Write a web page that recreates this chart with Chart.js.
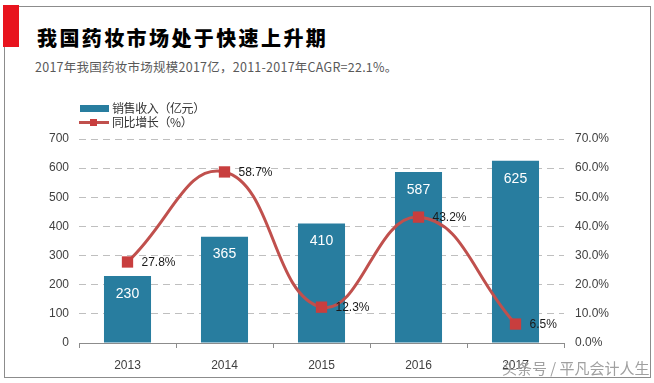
<!DOCTYPE html>
<html><head><meta charset="utf-8">
<script src="https://cdn.jsdelivr.net/npm/chart.js@4"></script>
<style>
html,body{margin:0;padding:0;background:#fff;}
#wrap{position:relative;width:654px;height:383px;overflow:hidden;background:#fff;}
#frame{position:absolute;left:4px;top:6px;width:647px;height:372px;border:1px solid #8c8c8c;box-sizing:border-box;}
#redbar{position:absolute;left:3px;top:5px;width:16px;height:42px;background:#E8141E;}
#title{position:absolute;left:37px;top:26px;font-family:"Noto Sans CJK SC";font-weight:900;font-size:20px;letter-spacing:2.4px;color:#000;white-space:nowrap;line-height:24px;}
#sub{position:absolute;left:35px;top:59px;font-family:"Noto Sans CJK SC";font-size:12.5px;letter-spacing:0.25px;color:#595959;white-space:nowrap;line-height:16px;}
canvas{position:absolute;left:0;top:0;}
.leg{position:absolute;left:80px;font-family:"Noto Sans CJK SC";font-size:12px;color:#333;white-space:nowrap;line-height:14px;}
.leg .sw{position:absolute;}
.leg .tx{position:absolute;left:32px;top:0;letter-spacing:-0.4px;}
#wm{position:absolute;left:502px;top:359px;font-family:"Noto Sans CJK SC";font-size:15px;color:#a0a0a0;white-space:nowrap;line-height:18px;}
</style>
</head><body>
<div id="wrap">
<div id="frame"></div>
<div id="redbar"></div>
<div id="title">我国药妆市场处于快速上升期</div>
<div id="sub">2017年我国药妆市场规模2017亿，2011-2017年CAGR=22.1%。</div>
<canvas id="c" width="654" height="383"></canvas>
<div class="leg" id="leg1" style="top:101px;"><div class="sw" style="left:0;top:4px;width:29px;height:7px;background:#287D9F;"></div><div class="tx"></div></div>
<div class="leg" id="leg2" style="top:115px;"><div class="sw" style="left:-1px;top:6px;width:30px;height:3px;background:#C0504D;"></div><div class="sw" style="left:10px;top:4px;width:7px;height:7px;background:#C83E3E;"></div><div class="tx"></div></div>
<div id="wm">头条号 / 平凡会计人生</div>
</div>
<script>
const categories = ['2013', '2014', '2015', '2016', '2017'];
const salesValues = [230, 365, 410, 587, 625];
const growthValues = [27.8, 58.7, 12.3, 43.2, 6.5];
const salesLabel = '销售收入（亿元）';
const growthLabel = '同比增长（%）';

document.querySelector('#leg1 .tx').textContent = salesLabel;
document.querySelector('#leg2 .tx').textContent = growthLabel;

const labelPlugin = {
  id: 'valueLabels',
  afterDatasetsDraw(chart) {
    const ctx = chart.ctx;
    ctx.save();
    const barMeta = chart.getDatasetMeta(0);
    ctx.font = '14px "Liberation Sans", Arial, sans-serif';
    ctx.fillStyle = '#ffffff';
    ctx.textAlign = 'center';
    ctx.textBaseline = 'middle';
    barMeta.data.forEach((el, i) => {
      ctx.fillText(String(salesValues[i]), el.x, el.y + 18);
    });
    const lineMeta = chart.getDatasetMeta(1);
    ctx.font = '12px "Liberation Sans", Arial, sans-serif';
    ctx.fillStyle = '#1a1a1a';
    ctx.textAlign = 'left';
    lineMeta.data.forEach((el, i) => {
      ctx.fillText(growthValues[i].toFixed(1) + '%', el.x + 14, el.y + 1);
    });
    ctx.restore();
  }
};

const tickFont = { family: '"Liberation Sans", Arial, sans-serif', size: 12 };

new Chart(document.getElementById('c'), {
  data: {
    labels: categories,
    datasets: [
      {
        type: 'bar',
        label: salesLabel,
        data: salesValues,
        backgroundColor: '#287D9F',
        barPercentage: 0.485,
        categoryPercentage: 1,
        yAxisID: 'y',
        order: 2
      },
      {
        type: 'line',
        label: growthLabel,
        data: growthValues,
        borderColor: '#C0504D',
        borderWidth: 3,
        tension: 0.45,
        pointStyle: 'rect',
        pointRadius: 8,
        pointBackgroundColor: '#C83E3E',
        pointBorderWidth: 0,
        yAxisID: 'y1',
        order: 1
      }
    ]
  },
  options: {
    responsive: false,
    animation: false,
    events: [],
    layout: { padding: { left: 4, right: 0, top: 139, bottom: 10 } },
    plugins: { legend: { display: false }, tooltip: { enabled: false } },
    scales: {
      x: {
        offset: true,
        grid: { offset: true, drawOnChartArea: false, tickLength: 5, color: '#8c8c8c' },
        border: { color: '#8c8c8c' },
        ticks: { color: '#404040', font: tickFont, padding: 10 },
        afterFit(s) { s.height = 30; }
      },
      y: {
        position: 'left',
        min: 0, max: 700,
        ticks: { stepSize: 100, color: '#404040', font: tickFont, padding: 10 },
        grid: { color: (c) => c.tick && c.tick.value === 0 ? 'rgba(0,0,0,0)' : '#BFBFBF', drawTicks: false },
        border: { display: false, dash: [7, 5] },
        afterFit(s) { s.width = 75; }
      },
      y1: {
        position: 'right',
        min: 0, max: 70,
        ticks: { stepSize: 10, color: '#404040', font: tickFont, padding: 11, callback: (v) => Number(v).toFixed(1) + '%' },
        grid: { drawOnChartArea: false, drawTicks: false },
        border: { display: false },
        afterFit(s) { s.width = 90; }
      }
    }
  },
  plugins: [labelPlugin]
});
</script>
</body></html>
